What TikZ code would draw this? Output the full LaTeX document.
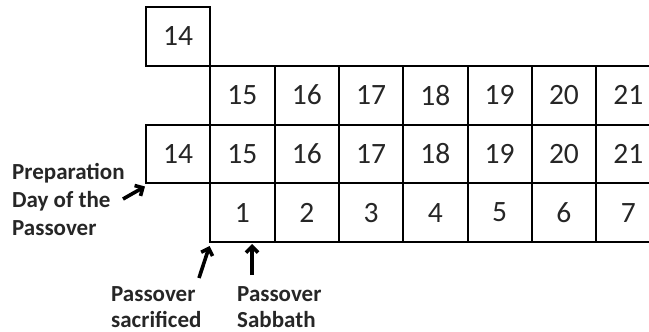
\documentclass[tikz,border=0pt]{standalone}
\usepackage{fontspec}
\setmainfont{Carlito}
\usetikzlibrary{arrows.meta}
\begin{document}
\begin{tikzpicture}[x=1pt,y=-1pt,
  cell/.style={draw, line width=2pt, minimum width=64.3pt, minimum height=58.75pt,
    inner sep=0pt, outer sep=0pt, font=\fontsize{29.5}{30}\selectfont, anchor=north west,
    text=black!85},
  lbl/.style={font=\bfseries\fontsize{23}{28}\selectfont, align=left, anchor=north west,
    inner sep=0pt, text=black!85},
  arr/.style={line width=3.6pt, -{Straight Barb[length=6pt,width=12pt]}}]
\useasboundingbox (0,0) rectangle (649,332);
\clip (0,0) rectangle (649,332);
% top single box
\node[cell] (t14) at (146,7) {14};
% row 2: 15..21
\foreach \k in {1,...,7}{
  \pgfmathtruncatemacro{\n}{14+\k}
  \node[cell] (a\k) at ({146+64.3*\k},65.75) {\n};
}
% row 3: 14..21
\foreach \k in {0,...,7}{
  \pgfmathtruncatemacro{\n}{14+\k}
  \node[cell] (b\k) at ({146+64.3*\k},124.5) {\n};
}
% row 4: 1..7
\foreach \k in {1,...,7}{
  \node[cell] (c\k) at ({146+64.3*\k},183.25) {\k};
}
% labels
\node[lbl] (prep) at (12,163) {Preparation\\Day of the\\Passover};
\node[lbl, font=\bfseries\fontsize{23}{25.5}\selectfont] (sacr) at (111,286.5) {Passover\\sacrificed};
\node[lbl, font=\bfseries\fontsize{23}{25.5}\selectfont] (sabb) at (237,286.5) {Passover\\Sabbath};
% arrows
\coordinate (prepT) at (123,199);
\coordinate (prepH) at (145,186.5);
\coordinate (sacrT) at (199,278);
\coordinate (sacrH) at (209.5,246);
\coordinate (sabbT) at (252,275);
\coordinate (sabbH) at (252,244);
\draw[arr] (prepT) -- (prepH);
\draw[arr] (sacrT) -- (sacrH);
\draw[arr] (sabbT) -- (sabbH);
\end{tikzpicture}
\end{document}
